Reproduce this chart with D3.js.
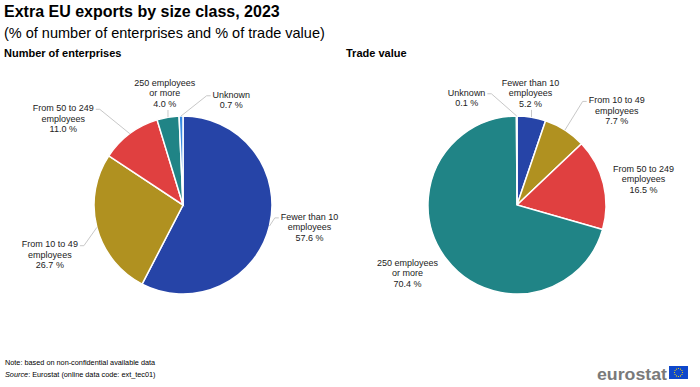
<!DOCTYPE html>
<html>
<head>
<meta charset="utf-8">
<script src="https://d3js.org/d3.v7.min.js"></script>
<style>
  body { margin: 0; background: #fff; }
  svg { font-family: Arial, "Liberation Sans", sans-serif; }
</style>
</head>
<body>
<div id="vis"></div>

<script>
  // Size classes (same order in both pies, clockwise from 12 o'clock)
  const categories = ['Fewer than 10 employees', 'From 10 to 49 employees', 'From 50 to 249 employees', '250 employees or more', 'Unknown']
  // label lines for each class
  const labelLines = [
    ['Fewer than 10', 'employees'],
    ['From 10 to 49', 'employees'],
    ['From 50 to 249', 'employees'],
    ['250 employees', 'or more'],
    ['Unknown']
  ]
  const enterprises = [57.6, 26.7, 11.0, 4.0, 0.7]
  const tradeValue = [5.2, 7.7, 16.5, 70.4, 0.1]
  const colors = ['#2644a7', '#b09120', '#e04040', '#208486', '#388ae2']

  const width = 700, height = 387
  const radius = 89
  const labelRadius = 120

  // small nudges so labels sit where the original put them (layout only)
  const pies = [
    { title: 'Number of enterprises', titleX: 4, cx: 183, values: enterprises,
      nudge: [[10, -6], [-17, 20], [-48, 10], [2, 7], [51, 15]],
      connector: [true, true, true, true, true] },
    { title: 'Trade value', titleX: 346, cx: 517, values: tradeValue,
      nudge: [[-6, 7], [35, 7], [10, 3], [-14, -4], [-50, 13]],
      connector: [true, true, false, false, true] }
  ]
  const cy = 205

  const svg = d3.select('#vis').append('svg')
    .attr('width', width)
    .attr('height', height)

  svg.append('rect').attr('width', width).attr('height', height).attr('fill', '#fff')

  // Titles
  svg.append('text')
    .attr('x', 4).attr('y', 17)
    .attr('font-size', 16).attr('font-weight', 'bold').attr('fill', '#000')
    .text('Extra EU exports by size class, 2023')
  svg.append('text')
    .attr('x', 4).attr('y', 38)
    .attr('font-size', 14.5).attr('fill', '#000')
    .text('(% of number of enterprises and % of trade value)')

  const pie = d3.pie().sort(null).value(d => d)
  const arc = d3.arc().innerRadius(0).outerRadius(radius)

  function polar(angle, r) {
    return [Math.sin(angle) * r, -Math.cos(angle) * r]
  }

  pies.forEach(function (p) {
    svg.append('text')
      .attr('x', p.titleX).attr('y', 57)
      .attr('font-size', 11).attr('font-weight', 'bold').attr('fill', '#000')
      .text(p.title)

    const g = svg.append('g').attr('transform', 'translate(' + p.cx + ',' + cy + ')')
    const arcs = pie(p.values)

    g.selectAll('path')
      .data(arcs)
      .enter()
      .append('path')
      .attr('d', arc)
      .attr('fill', (d, i) => colors[i])
      .attr('stroke', '#fff')
      .attr('stroke-width', 1.5)

    // Labels
    arcs.forEach(function (d, i) {
      const mid = (d.startAngle + d.endAngle) / 2
      const base = polar(mid, labelRadius)
      const lx = base[0] + p.nudge[i][0]
      const ly = base[1] + p.nudge[i][1]
      const lines = labelLines[i].concat([d3.format('.1f')(p.values[i]) + ' %'])
      const lh = 10.5
      const top = ly - (lines.length * lh) / 2

      const t = g.append('text')
        .attr('text-anchor', 'middle')
        .attr('font-size', 9)
        .attr('fill', '#222')
      lines.forEach(function (line, j) {
        t.append('tspan')
          .attr('x', lx)
          .attr('y', top + j * lh + 8)
          .text(line)
      })

      if (!p.connector[i]) return
      const bb = t.node().getBBox()
      const edge = polar(mid, radius)
      let end, knee
      if (edge[0] > bb.x && edge[0] < bb.x + bb.width) {
        // label straight above the slice: drop a line from its bottom
        end = [edge[0], bb.y + bb.height + 1]
        knee = end
      } else if (edge[0] < bb.x) {
        end = [bb.x - 2, top + lh / 2 + 1]
        knee = [end[0] - 4, end[1]]
      } else {
        end = [bb.x + bb.width + 2, top + lh / 2 + 1]
        knee = [end[0] + 4, end[1]]
      }
      g.append('polyline')
        .attr('points', [end, knee, edge].map(q => q.join(',')).join(' '))
        .attr('fill', 'none')
        .attr('stroke', '#c8c8c8')
        .attr('stroke-width', 1)
    })
  })

  // Footer
  svg.append('text')
    .attr('x', 5).attr('y', 365)
    .attr('font-size', 7.3).attr('fill', '#000')
    .text('Note: based on non-confidential available data')
  const src = svg.append('text')
    .attr('x', 5).attr('y', 377)
    .attr('font-size', 7.3).attr('fill', '#000')
  src.append('tspan').attr('font-style', 'italic').text('Source')
  src.append('tspan').text(': Eurostat (online data code: ext_tec01)')

  // Eurostat logo
  svg.append('text')
    .attr('x', 597).attr('y', 380)
    .attr('font-size', 17).attr('font-weight', 'bold').attr('fill', '#7a7a7a')
    .attr('textLength', 70).attr('lengthAdjust', 'spacingAndGlyphs')
    .text('eurostat')
  svg.append('rect')
    .attr('x', 669).attr('y', 366).attr('width', 19).attr('height', 13)
    .attr('fill', '#0e47cb')
  d3.range(12).forEach(function (k) {
    const a = k / 12 * 2 * Math.PI
    svg.append('circle')
      .attr('cx', 678.5 + Math.sin(a) * 4)
      .attr('cy', 372.5 - Math.cos(a) * 4)
      .attr('r', 0.6)
      .attr('fill', '#ffdd00')
  })
</script>
</body>
</html>
